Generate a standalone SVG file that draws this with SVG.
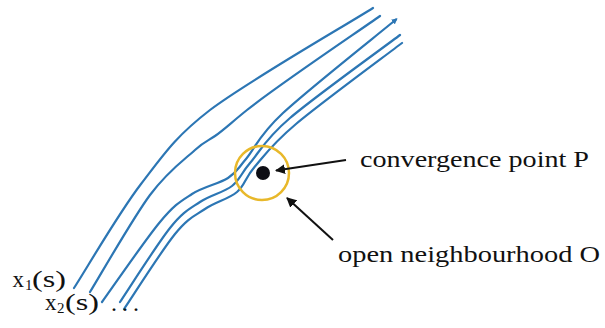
<svg xmlns="http://www.w3.org/2000/svg" width="605" height="328" viewBox="0 0 605 328">
<style>
.traj{fill:none;stroke:#2c76b4;stroke-width:2.2;stroke-linecap:round}
.lbl{fill:#111}
.arr{stroke:#111;stroke-width:2;fill:none}
</style>
<defs>
<marker id="ah" markerWidth="10" markerHeight="10" refX="9" refY="5" orient="auto" markerUnits="userSpaceOnUse" viewBox="0 0 10 10">
<path d="M0,0 L10,5 L0,10 Z" fill="#111"/>
</marker>
<marker id="bh" markerWidth="6" markerHeight="6" refX="4" refY="3" orient="auto" markerUnits="userSpaceOnUse" viewBox="0 0 6 6">
<path d="M0,0 L6,3 L0,6 Z" fill="#2c76b4"/>
</marker>
</defs>
<g id="trajectories">
<path id="traj1" class="traj" d="M74,288 C85.5,270.5 118,214 141,184 C164,154 175,137 210,110 C250,80 346.2,25 373,8"/>
<path id="traj2" class="traj" d="M90,292 C100,275.8 132.5,218.7 150,195 C167.5,171.3 184.2,159.7 195,150 C205.8,140.3 208,141 215,136 C223.7,130 232,122 247,110 C277,86 357.8,31.7 380,16"/>
<path id="traj3" class="traj" marker-end="url(#bh)" d="M102,302 C111.7,288.7 145,240 160,222 C175,204 180.7,201.3 192,194 C203.3,186.7 219,183.8 228,178 C237,172.2 236.8,169.8 246,159 C255.2,148.2 257.7,136.5 283,113 C308.3,89.5 378.8,33.8 396,19.5"/>
<path id="traj4" class="traj" d="M120,302 C128.3,289.7 156.7,244.7 170,228 C183.3,211.3 189.7,209 200,202 C210.3,195 223.7,192.5 232,186 C240.3,179.5 240.3,174.3 250,163 C259.7,151.7 265,139.3 290,118 C315,96.7 381.7,48.8 400,35"/>
<path id="traj5" class="traj" d="M124,309 C132.5,296.5 161.5,250.7 175,234 C188.5,217.3 194.7,216 205,209 C215.3,202 228.75,199 237,192 C245.25,185 244.7,178.3 254.5,167 C264.3,155.7 271.4,144.7 296,124 C320.6,103.3 384.3,56.5 402,43"/>
</g>
<g id="neighbourhood">
<circle cx="262" cy="173" r="27" fill="none" stroke="#e8b82a" stroke-width="2.5"/>
</g>
<g id="pointP">
<circle cx="263" cy="173" r="7" fill="#0d0d14"/>
</g>
<g id="connectors">
<line class="arr" x1="346" y1="160" x2="276" y2="170.5" marker-end="url(#ah)"/>
<line class="arr" x1="333" y1="240" x2="287" y2="198" marker-end="url(#ah)"/>
</g>
<g id="labels" font-family="Liberation Serif, Times New Roman, serif">
<text class="lbl" x="360" y="167" font-size="24" textLength="229" lengthAdjust="spacingAndGlyphs">convergence point P</text>
<text class="lbl" x="338" y="262" font-size="24" textLength="262" lengthAdjust="spacingAndGlyphs">open neighbourhood O</text>
<text class="lbl" font-size="23"><tspan x="12.5" y="287">x</tspan><tspan x="25" y="290" font-size="15">1</tspan><tspan x="32" y="287" textLength="34" lengthAdjust="spacingAndGlyphs">(s)</tspan></text>
<text class="lbl" font-size="23"><tspan x="45" y="310">x</tspan><tspan x="57" y="313" font-size="15">2</tspan><tspan x="65" y="310" textLength="34" lengthAdjust="spacingAndGlyphs">(s)</tspan></text>
<text class="lbl" x="111" y="311" font-size="24" letter-spacing="5">...</text>
</g>
</svg>
